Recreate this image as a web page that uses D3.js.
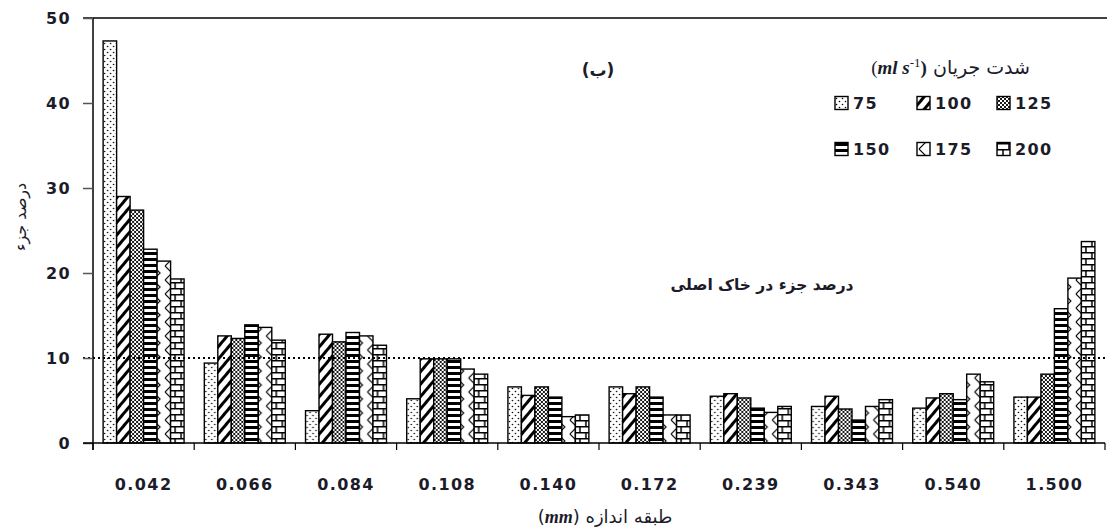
<!DOCTYPE html>
<html lang="fa">
<head>
<meta charset="UTF-8">
<title>درصد جزء - طبقه اندازه</title>
<script src="https://cdnjs.cloudflare.com/ajax/libs/d3/7.8.5/d3.min.js"></script>
<style>
    body { margin: 0; padding: 0; background: #fff; }
    svg { display: block; }
    .tick-label { font-family: "DejaVu Sans", Verdana, sans-serif; font-weight: bold; font-size: 16px; fill: #1b1b2a; letter-spacing: 1.4px; }
    .fa { font-family: "DejaVu Sans", sans-serif; fill: #1b1b2a; }
</style>
</head>
<body>
<div id="chart"></div>
<script>
    // size classes (mm)
    const categories = ["0.042", "0.066", "0.084", "0.108", "0.140", "0.172", "0.239", "0.343", "0.540", "1.500"];
    // flow rates (ml s-1)
    const flowRates = ["75", "100", "125", "150", "175", "200"];
    const yTicks = [0, 10, 20, 30, 40, 50];

    // percent of fraction, one array per flow rate
    const s75  = [47.3, 9.4, 3.8, 5.2, 6.6, 6.6, 5.5, 4.3, 4.1, 5.4];
    const s100 = [29.0, 12.6, 12.8, 9.9, 5.6, 5.8, 5.8, 5.5, 5.3, 5.4];
    const s125 = [27.4, 12.3, 11.9, 9.9, 6.6, 6.6, 5.3, 4.0, 5.8, 8.1];
    const s150 = [22.8, 13.9, 13.0, 9.9, 5.4, 5.4, 4.1, 2.7, 5.1, 15.8];
    const s175 = [21.4, 13.6, 12.6, 8.7, 3.1, 3.3, 3.6, 4.3, 8.1, 19.4];
    const s200 = [19.3, 12.1, 11.5, 8.1, 3.3, 3.3, 4.3, 5.1, 7.2, 23.7];
    const series = [s75, s100, s125, s150, s175, s200];

    const originalSoil = 10; // درصد جزء در خاک اصلی

    const width = 1107, height = 530;
    const margin = {top: 18, right: 2, bottom: 87, left: 93};

    const svg = d3.select("#chart").append("svg")
        .attr("width", width)
        .attr("height", height);

    // --- patterns
    const defs = svg.append("defs");
    const patIds = ["p75", "p100", "p125", "p150", "p175", "p200"];

    let p = defs.append("pattern").attr("id", "p75").attr("patternUnits", "userSpaceOnUse")
        .attr("width", 6).attr("height", 6);
    p.append("rect").attr("width", 6).attr("height", 6).attr("fill", "#fff");
    p.append("circle").attr("cx", 1.5).attr("cy", 1.5).attr("r", 0.8).attr("fill", "#000");
    p.append("circle").attr("cx", 4.5).attr("cy", 4.5).attr("r", 0.8).attr("fill", "#000");

    p = defs.append("pattern").attr("id", "p100").attr("patternUnits", "userSpaceOnUse")
        .attr("width", 8).attr("height", 8).attr("patternTransform", "rotate(40)");
    p.append("rect").attr("width", 8).attr("height", 8).attr("fill", "#fff");
    p.append("rect").attr("width", 3).attr("height", 8).attr("fill", "#000");

    p = defs.append("pattern").attr("id", "p125").attr("patternUnits", "userSpaceOnUse")
        .attr("width", 4).attr("height", 4);
    p.append("rect").attr("width", 4).attr("height", 4).attr("fill", "#fff");
    p.append("path").attr("d", "M0,0 L4,4 M4,0 L0,4").attr("stroke", "#000").attr("stroke-width", 0.9);

    p = defs.append("pattern").attr("id", "p150").attr("patternUnits", "userSpaceOnUse")
        .attr("width", 6).attr("height", 6);
    p.append("rect").attr("width", 6).attr("height", 6).attr("fill", "#fff");
    p.append("rect").attr("y", 0).attr("width", 6).attr("height", 3).attr("fill", "#000");

    p = defs.append("pattern").attr("id", "p175").attr("patternUnits", "userSpaceOnUse")
        .attr("width", 12).attr("height", 14);
    p.append("rect").attr("width", 12).attr("height", 14).attr("fill", "#fff");
    p.append("path").attr("d", "M2,0 L9,7 L2,14").attr("fill", "none").attr("stroke", "#000").attr("stroke-width", 1.1);

    p = defs.append("pattern").attr("id", "p200").attr("patternUnits", "userSpaceOnUse")
        .attr("width", 12).attr("height", 12);
    p.append("rect").attr("width", 12).attr("height", 12).attr("fill", "#fff");
    p.append("path").attr("d", "M0,0.75 H12 M0,6.75 H12 M6,0 V6 M0,6 V12 M12,6 V12")
        .attr("stroke", "#000").attr("stroke-width", 1.5).attr("fill", "none");

    // --- scales
    const x0 = d3.scaleBand().domain(categories)
        .range([margin.left, width - margin.right])
        .paddingInner(0.2).paddingOuter(0.1);
    const x1 = d3.scaleBand().domain(flowRates).range([0, x0.bandwidth()]);
    const y = d3.scaleLinear().domain([0, 50]).range([height - margin.bottom, margin.top]);

    // top line at 50
    svg.append("line")
        .attr("x1", margin.left - 10).attr("x2", width)
        .attr("y1", y(50)).attr("y2", y(50))
        .attr("stroke", "#000").attr("stroke-width", 1.5);

    // --- bars
    const groups = svg.append("g").selectAll("g")
        .data(categories)
        .join("g")
        .attr("transform", d => `translate(${x0(d)},0)`);

    groups.selectAll("rect")
        .data((d, i) => flowRates.map((f, j) => ({f, j, v: series[j][i]})))
        .join("rect")
        .attr("x", d => x1(d.f))
        .attr("y", d => y(d.v))
        .attr("width", x1.bandwidth())
        .attr("height", d => y(0) - y(d.v))
        .attr("fill", d => `url(#${patIds[d.j]})`)
        .attr("stroke", "#000")
        .attr("stroke-width", 1.4);

    // --- original soil dotted line
    svg.append("line")
        .attr("x1", margin.left - 10).attr("x2", width - margin.right)
        .attr("y1", y(originalSoil)).attr("y2", y(originalSoil))
        .attr("stroke", "#000").attr("stroke-width", 2)
        .attr("stroke-dasharray", "2,3");

    // --- axes
    const yAxis = svg.append("g")
        .attr("transform", `translate(${margin.left},0)`)
        .call(d3.axisLeft(y).tickValues(yTicks).tickSize(10).tickPadding(12));
    yAxis.select(".domain").attr("stroke", "#000").attr("stroke-width", 1.5)
        .attr("d", `M0,${y(50)}V${y(0) + 7}`);
    yAxis.selectAll(".tick line").attr("stroke", "#555").attr("stroke-width", 1.5);
    yAxis.selectAll(".tick text").attr("class", "tick-label").attr("dy", "0.35em");

    const xAxis = svg.append("g")
        .attr("transform", `translate(0,${y(0)})`)
        .call(d3.axisBottom(x0).tickSize(0).tickPadding(36));
    xAxis.select(".domain").attr("stroke", "#000").attr("stroke-width", 1.5)
        .attr("d", `M${margin.left - 10},0H${width - margin.right}`);
    xAxis.selectAll(".tick text").attr("class", "tick-label");

    // group separator ticks
    const step = x0.step();
    const bounds = d3.range(categories.length + 1).map(i => margin.left + i * step);
    svg.append("g").selectAll("line")
        .data(bounds)
        .join("line")
        .attr("x1", d => d).attr("x2", d => d)
        .attr("y1", y(0)).attr("y2", y(0) + 7)
        .attr("stroke", "#000").attr("stroke-width", 1.2);

    // --- titles
    svg.append("text")
        .attr("class", "fa")
        .attr("transform", `translate(26,217) rotate(-90)`)
        .attr("text-anchor", "middle")
        .attr("font-size", 16)
        .text("درصد جزء");

    const xt = svg.append("text")
        .attr("class", "fa")
        .attr("x", 605).attr("y", 523)
        .attr("text-anchor", "middle")
        .attr("font-size", 18)
        .attr("direction", "rtl");
    xt.append("tspan").text("طبقه اندازه ");
    xt.append("tspan").text("(")
    xt.append("tspan").attr("font-family", "'Liberation Serif', serif").attr("font-style", "italic").attr("font-weight", "bold").text("mm");
    xt.append("tspan").text(")");

    svg.append("text")
        .attr("class", "fa")
        .attr("x", 598).attr("y", 76)
        .attr("text-anchor", "middle")
        .attr("font-size", 17)
        .attr("font-weight", "bold")
        .text("(ب)");

    svg.append("text")
        .attr("class", "fa")
        .attr("x", 762).attr("y", 290)
        .attr("text-anchor", "middle")
        .attr("font-size", 15.5)
        .attr("font-weight", "bold")
        .text("درصد جزء در خاک اصلی");

    // --- legend
    const lt = svg.append("text")
        .attr("class", "fa")
        .attr("x", 1030).attr("y", 74)
        .attr("text-anchor", "end")
        .attr("font-size", 19)
        .attr("direction", "ltr");
    lt.append("tspan").attr("font-family", "'Liberation Serif', serif").text("(");
    lt.append("tspan").attr("font-family", "'Liberation Serif', serif").attr("font-style", "italic").attr("font-weight", "bold").text("ml s");
    lt.append("tspan").attr("font-family", "'Liberation Serif', serif").attr("font-size", 13).attr("dy", -7).text("-1");
    lt.append("tspan").attr("font-family", "'Liberation Serif', serif").attr("font-weight", "bold").attr("dy", 7).text(")");
    lt.append("tspan").text(" شدت جریان");

    const legX = [835, 917, 997];
    const legY = [103, 149];
    const leg = svg.append("g").selectAll("g")
        .data(flowRates)
        .join("g")
        .attr("transform", (d, i) => `translate(${legX[i % 3]},${legY[Math.floor(i / 3)]})`);
    leg.append("rect")
        .attr("x", 0).attr("y", -6.5)
        .attr("width", 13).attr("height", 13)
        .attr("fill", (d, i) => `url(#${patIds[i]})`)
        .attr("stroke", "#000").attr("stroke-width", 1.4);
    leg.append("text")
        .attr("class", "tick-label")
        .attr("x", 18).attr("dy", "0.36em")
        .text(d => d);
</script>
</body>
</html>
